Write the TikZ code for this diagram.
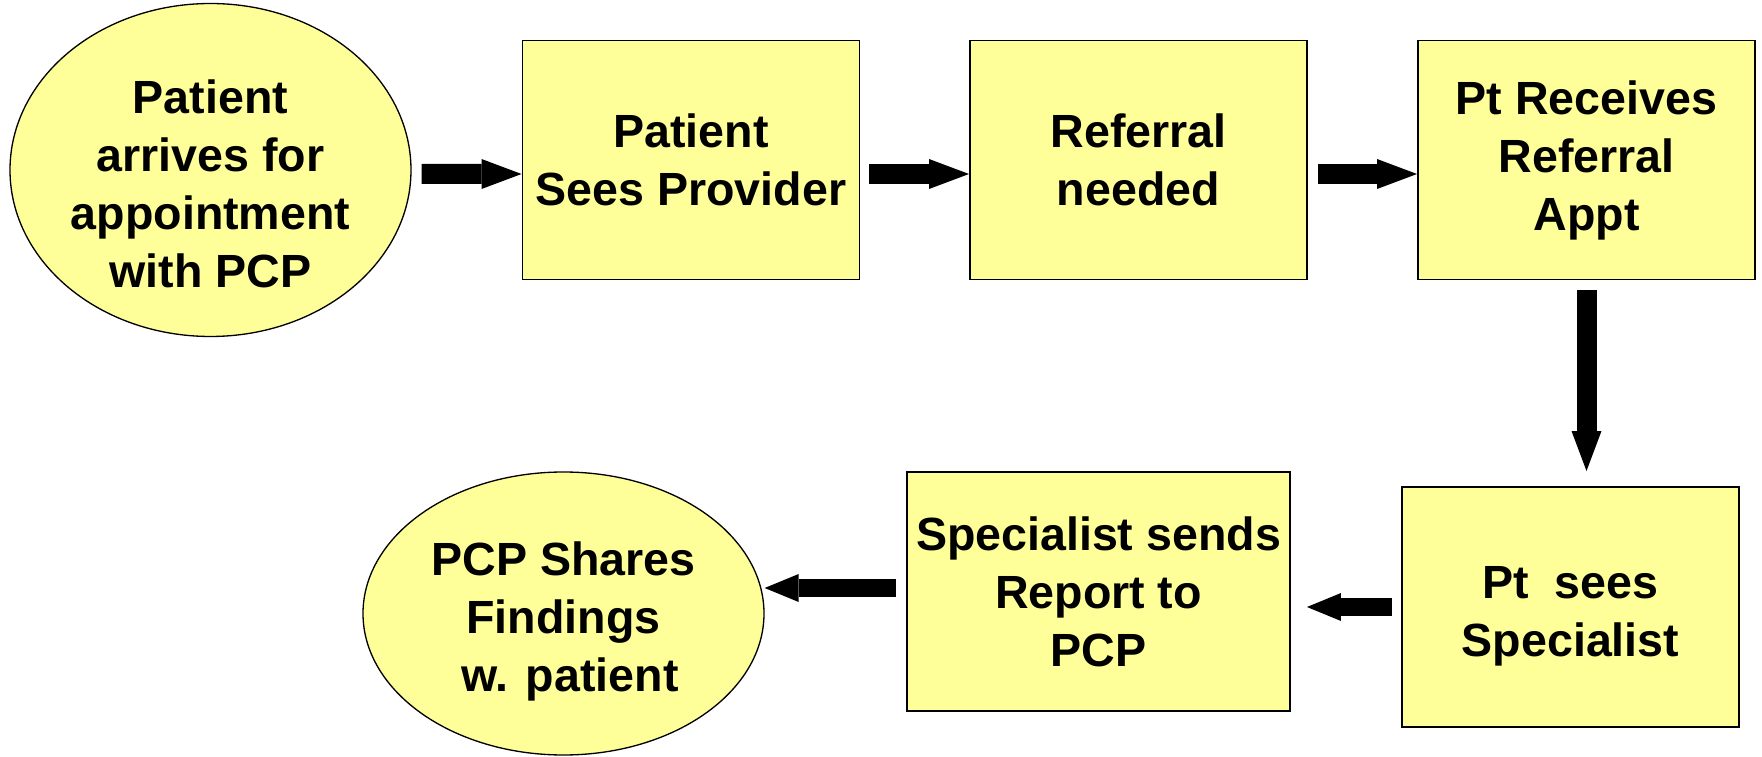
\documentclass[tikz,border=0pt]{standalone}
\usepackage{fontspec}
\setmainfont{Liberation Sans}
\usetikzlibrary{shapes.geometric,arrows.meta}

\definecolor{stepfill}{HTML}{FFFF99}

\begin{document}
\begin{tikzpicture}[
    font=\fontsize{26.5}{33}\selectfont\bfseries,
    stepbox/.style={draw, fill=stepfill, line width=1.1pt, align=center,
                    minimum width=6.74cm, minimum height=4.78cm, inner sep=0pt},
    endcap/.style={ellipse, draw, fill=stepfill, line width=0.75pt, align=center, inner sep=0pt},
    flow/.style={line width=0.4cm, -{Triangle[width=0.6cm, length=0.8cm, line width=0pt]}},
    flowsmall/.style={line width=0.35cm, -{Triangle[width=0.56cm, length=0.68cm, line width=0pt]}}
]
    \useasboundingbox (0,0) rectangle (35.24,15.12);

    % Steps, top row
    \node[endcap, minimum width=8.02cm, minimum height=6.52cm, text height=4.7cm] (arrive) at (4.21, 11.72)
        {Patient\\arrives for\\appointment\\with PCP};
    \node[stepbox] (sees)     at (13.82, 11.92) {Patient\\Sees Provider};
    \node[stepbox] (referral) at (22.77, 11.92) {Referral\\needed};
    \node[stepbox] (receives) at (31.73, 11.92) {Pt Receives\\Referral\\Appt};

    % Steps, bottom row
    \node[stepbox, minimum height=4.8cm, text height=2.16cm] (specialist) at (31.41, 2.98) {Pt~~sees\\Specialist};
    \node[stepbox, minimum width=7.66cm] (report) at (21.97, 3.29) {Specialist sends\\Report to\\PCP};
    \node[endcap, minimum width=8.02cm, minimum height=5.66cm, text height=3.32cm] (shares) at (11.27, 2.85)
        {PCP Shares\\Findings\\~w. patient};

    % Flow
    \draw[flow, shorten <=0.2cm] ([yshift=-0.08cm]arrive.east) -- ([yshift=-0.28cm]sees.west);
    \draw[flow, shorten <=0.18cm] ([yshift=-0.28cm]sees.east) -- ([yshift=-0.28cm]referral.west);
    \draw[flow, shorten <=0.2cm] ([yshift=-0.28cm]referral.east) -- ([yshift=-0.28cm]receives.west);
    \draw[flow, shorten <=0.2cm, shorten >=0.3cm] (receives.south) -- (receives.south |- specialist.north);
    \draw[flowsmall, shorten <=0.18cm, shorten >=0.32cm] (specialist.west) -- (specialist.west -| report.east);
    \draw[flowsmall, shorten <=0.2cm] ([yshift=0.07cm]report.west) -- ([yshift=0.07cm]report.west -| shares.east);

\end{tikzpicture}
\end{document}
